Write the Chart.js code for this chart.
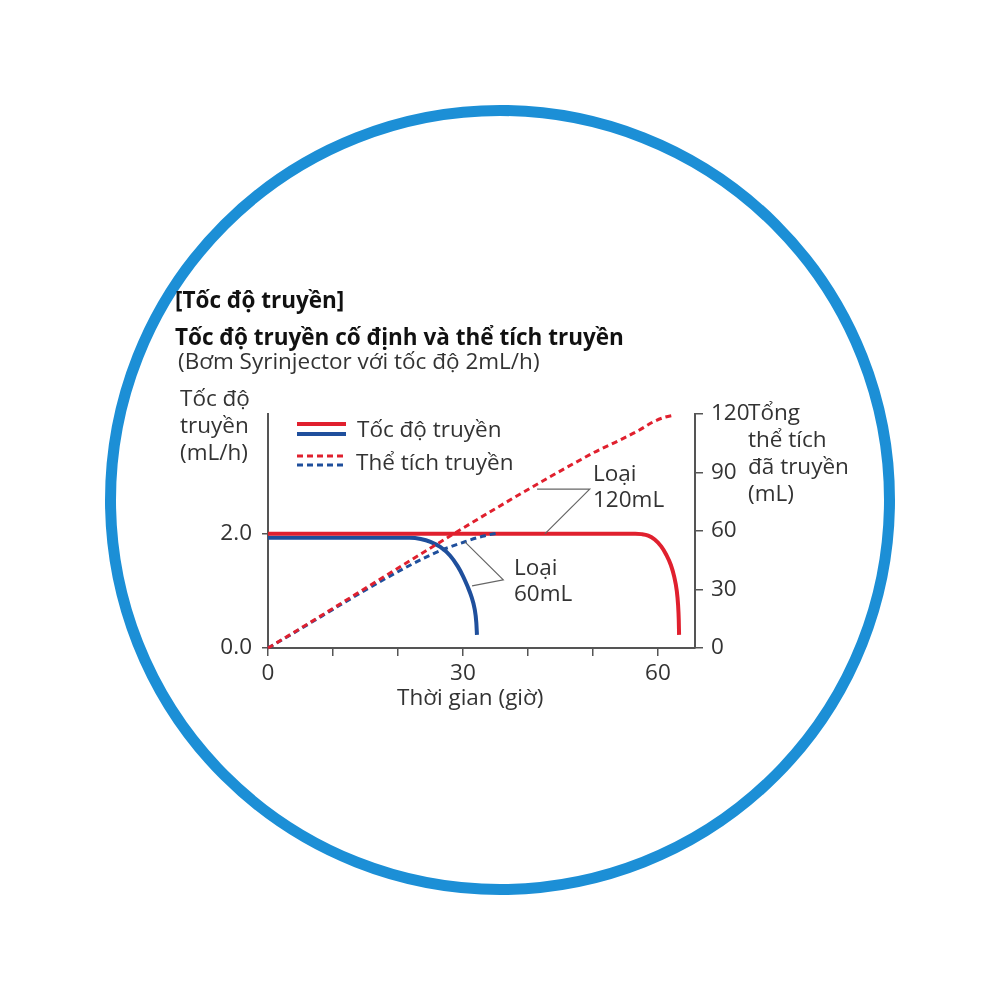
<!DOCTYPE html>
<html>
<head>
<meta charset="utf-8">
<script src="https://cdn.jsdelivr.net/npm/chart.js@4.4.1/dist/chart.umd.min.js"></script>
<style>
  html, body { margin:0; padding:0; background:#fff; }
  body { width:1000px; height:1000px; position:relative; overflow:hidden; font-family:'Open Sans', 'Noto Sans', sans-serif; color:#222; }
  #ring { position:absolute; left:105px; top:105px; width:768px; height:768px; border:11px solid #1c8fd6; border-radius:50%; box-sizing:content-box; }
  #c { position:absolute; left:0; top:0; }
  .t { position:absolute; white-space:nowrap; line-height:1; font-size:22.5px; color:#333; }
  .b { font-weight:700; color:#111; }
</style>
</head>
<body>
<div id="ring"></div>
<canvas id="c" width="1000" height="1000"></canvas>
<div class="t b" style="left:175px;top:289px;">[Tốc độ truyền]</div>
<div class="t b" style="left:175px;top:326px;">Tốc độ truyền cố định và thể tích truyền</div>
<div class="t" style="left:178px;top:350px;">(Bơm Syrinjector với tốc độ 2mL/h)</div>
<div class="t" style="left:180px;top:384px;line-height:27px;">Tốc độ<br>truyền<br>(mL/h)</div>
<div class="t" style="left:748px;top:398px;line-height:27px;">Tổng<br>thể tích<br>đã truyền<br>(mL)</div>
<div class="t" style="left:357px;top:418px;">Tốc độ truyền</div>
<div class="t" style="left:356px;top:451px;">Thể tích truyền</div>
<div class="t" style="left:593px;top:460px;line-height:25.5px;">Loại<br>120mL</div>
<div class="t" style="left:514px;top:554px;line-height:25.5px;">Loại<br>60mL</div>
<div class="t" style="left:397px;top:686px;">Thời gian (giờ)</div>
<script>
// ---- data (hours, mL/h, mL) ----
const xTickValues = [0, 10, 20, 30, 40, 50, 60];
const xTickLabels = ['0', '', '', '30', '', '', '60'];
const rateTickValues = [0, 2];
const volumeTickValues = [0, 30, 60, 90, 120];

const rate120Hours = [0, 56.5, 57.5, 58.5, 59.5, 60.5, 61.3, 62.0, 62.5, 62.9, 63.1, 63.2, 63.25];
const rate120Values = [2.0, 2.0, 1.995, 1.97, 1.90, 1.78, 1.63, 1.45, 1.25, 1.0, 0.75, 0.5, 0.23];

const rate60Hours = [0, 21.8, 23.5, 25.0, 26.5, 28.0, 29.2, 30.0, 30.7, 31.3, 31.8, 32.05, 32.15];
const rate60Values = [1.93, 1.93, 1.91, 1.86, 1.77, 1.62, 1.43, 1.26, 1.08, 0.9, 0.68, 0.45, 0.23];

const volume120Hours = [0, 50, 54.2, 57, 59.3, 61, 62.6];
const volume120Values = [0, 100, 106.7, 111.5, 116, 118.3, 119.5];

const volume60Hours = [0, 25, 30.3, 33, 35.4];
const volume60Values = [0, 47.7, 54.5, 57.3, 59];

const legendLabels = ['Tốc độ truyền', 'Thể tích truyền'];

// annotation anchors (data coordinates)
const note120 = { apex: [49.5, 81.5], toDashed: [41.4, 81.5], toSolid: [42.6, 2.0] };
const note60 = { apex: [36.2, 34.9], toDashed: [30.3, 54.4], toSolid: [31.4, 1.09] };

const RED = '#e0202e', BLUE = '#1f4f9c', AXIS = '#555';
const pts = (xs, ys) => xs.map((x, i) => ({ x, y: ys[i] }));

const leaders = {
  id: 'leaders',
  afterDatasetsDraw(chart) {
    const { ctx, scales } = chart;
    const x = scales.x, yl = scales.y, yr = scales.yR;
    ctx.save();
    ctx.strokeStyle = '#666';
    ctx.lineWidth = 1.2;
    const draw = (n) => {
      const ax = x.getPixelForValue(n.apex[0]), ay = yr.getPixelForValue(n.apex[1]);
      ctx.beginPath();
      ctx.moveTo(x.getPixelForValue(n.toDashed[0]), yr.getPixelForValue(n.toDashed[1]));
      ctx.lineTo(ax, ay);
      ctx.lineTo(x.getPixelForValue(n.toSolid[0]), yl.getPixelForValue(n.toSolid[1]));
      ctx.stroke();
    };
    draw(note120); draw(note60);
    // legend swatches
    const lx0 = 297, lx1 = 346;
    ctx.lineWidth = 4;
    ctx.setLineDash([]);
    [[RED, 424], [BLUE, 434]].forEach(([c, y]) => { ctx.strokeStyle = c; ctx.beginPath(); ctx.moveTo(lx0, y); ctx.lineTo(lx1, y); ctx.stroke(); });
    ctx.lineWidth = 3;
    ctx.setLineDash([6, 4]);
    [[RED, 456], [BLUE, 465]].forEach(([c, y]) => { ctx.strokeStyle = c; ctx.beginPath(); ctx.moveTo(lx0, y); ctx.lineTo(lx1, y); ctx.stroke(); });
    ctx.restore();
  }
};

Chart.defaults.font.family = "'Open Sans', 'Noto Sans', sans-serif";
Chart.defaults.font.size = 22.5;
Chart.defaults.color = '#333';

new Chart(document.getElementById('c'), {
  type: 'line',
  data: {
    datasets: [
      { label: legendLabels[1], data: pts(volume120Hours, volume120Values), yAxisID: 'yR', borderColor: RED, borderWidth: 3, borderDash: [6, 4], cubicInterpolationMode: 'monotone' },
      { label: legendLabels[1], data: pts(volume60Hours, volume60Values), yAxisID: 'yR', borderColor: BLUE, borderWidth: 3, borderDash: [6, 4], cubicInterpolationMode: 'monotone' },
      { label: legendLabels[0], data: pts(rate120Hours, rate120Values), yAxisID: 'y', borderColor: RED, borderWidth: 4, cubicInterpolationMode: 'monotone' },
      { label: legendLabels[0], data: pts(rate60Hours, rate60Values), yAxisID: 'y', borderColor: BLUE, borderWidth: 4, cubicInterpolationMode: 'monotone' }
    ]
  },
  options: {
    responsive: false,
    animation: false,
    devicePixelRatio: 1,
    clip: false,
    elements: { point: { radius: 0 }, line: { fill: false, borderCapStyle: 'butt' } },
    layout: { padding: { top: 414, left: 0, right: 0, bottom: 0 } },
    plugins: { legend: { display: false }, tooltip: { enabled: false } },
    scales: {
      x: {
        type: 'linear', min: 0, max: 65.7,
        afterBuildTicks: s => { s.ticks = xTickValues.map(v => ({ value: v })); },
        afterFit: s => { s.height = 352; },
        ticks: { callback: (v) => xTickLabels[xTickValues.indexOf(v)] ?? '', padding: 4, maxRotation: 0, autoSkip: false, color: '#333' },
        grid: { drawOnChartArea: false, color: AXIS, lineWidth: 1.5, tickLength: 8 },
        border: { color: AXIS, width: 2 }
      },
      y: {
        type: 'linear', position: 'left', min: 0, max: 4.1,
        afterBuildTicks: s => { s.ticks = rateTickValues.map(v => ({ value: v })); },
        afterFit: s => { s.width = 268; },
        ticks: { callback: v => v.toFixed(1), padding: 10, color: '#333' },
        grid: { drawOnChartArea: false, color: AXIS, lineWidth: 1.5, tickLength: 6 },
        border: { color: AXIS, width: 2 }
      },
      yR: {
        type: 'linear', position: 'right', min: 0, max: 120,
        afterBuildTicks: s => { s.ticks = volumeTickValues.map(v => ({ value: v })); },
        afterFit: s => { s.width = 305; },
        ticks: { padding: 8, color: '#333' },
        grid: { drawOnChartArea: false, color: AXIS, lineWidth: 1.5, tickLength: 8 },
        border: { color: AXIS, width: 2 }
      }
    }
  },
  plugins: [leaders]
});
</script>
</body>
</html>
